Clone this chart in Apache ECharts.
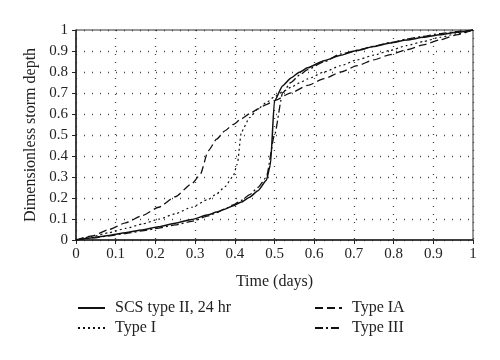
<!DOCTYPE html>
<html><head><meta charset="utf-8">
<script src="https://cdn.jsdelivr.net/npm/echarts@6/dist/echarts.min.js"></script>
<style>html,body{margin:0;padding:0;background:#fff}#c{width:500px;height:360px}</style>
</head><body><div id="c"></div>
<script>
// time in hours (converted to days below), cumulative dimensionless depth
const hII  = [0,1,2,3,4,5,6,7,8,8.5,9,9.5,10,10.5,11,11.5,11.75,12,12.5,13,13.5,14,15,16,17,18,19,20,21,22,23,24];
const vII  = [0,.011,.022,.035,.048,.063,.080,.098,.120,.133,.147,.163,.181,.204,.235,.283,.357,.663,.735,.772,.799,.820,.854,.880,.902,.921,.938,.952,.965,.977,.989,1];
const hI   = [0,1,2,3,4,5,6,7,8,8.5,9,9.5,9.75,10,10.5,11,11.5,12,12.5,13,13.5,14,15,16,17,18,19,20,21,22,23,24];
const vI   = [0,.017,.035,.055,.076,.099,.125,.156,.194,.219,.254,.303,.362,.515,.583,.624,.654,.682,.706,.727,.748,.767,.800,.830,.858,.880,.903,.926,.945,.965,.982,1];
const hIA  = [0,1,2,3,4,5,6,7,7.5,8,8.5,9,9.5,10,10.5,11,11.5,12,13,14,15,16,17,18,19,20,21,22,23,24];
const vIA  = [0,.020,.050,.082,.116,.156,.206,.268,.310,.425,.480,.520,.550,.577,.601,.624,.645,.664,.701,.736,.768,.800,.830,.858,.883,.906,.929,.953,.977,1];
const hIII = [0,1,2,3,4,5,6,7,8,8.5,9,9.5,10,10.5,11,11.5,12,12.5,13,13.5,14,15,16,17,18,19,20,21,22,23,24];
const vIII = [0,.010,.020,.031,.043,.057,.072,.089,.115,.130,.148,.167,.189,.216,.250,.298,.500,.702,.751,.785,.811,.849,.886,.904,.922,.940,.957,.970,.983,.992,1];
const names = ['SCS type II, 24 hr','Type I','Type IA','Type III'];

const zip = (h,v)=>h.map((x,i)=>[x/24,v[i]]);
const FONT = '"Liberation Serif", "DejaVu Serif", serif';
const tickFmt = v => (v===0||v===1) ? String(v) : v.toFixed(1);
const chart = echarts.init(document.getElementById('c'), null, {renderer:'canvas'});
const mk = (name, t, v, type, w) => ({
  name, type:'line', data: zip(t,v), symbol:'none', smooth:0.2, smoothMonotone:'x',
  lineStyle:{color:'#111', width:w, type}, itemStyle:{color:'#111'}, animation:false
});
const legendCommon = {orient:'vertical', top:295, itemWidth:27, itemHeight:10, itemGap:4,
  itemStyle:{opacity:0},
  textStyle:{fontFamily:FONT, fontSize:16, color:'#222', padding:[0,0,0,5]}};
chart.setOption({
  animation:false,
  textStyle:{fontFamily:FONT},
  grid:{left:76, right:27, top:30, bottom:120, show:true, borderColor:'#333', borderWidth:1},
  xAxis:{type:'value', min:0, max:1, interval:0.1,
    name:'Time (days)', nameLocation:'middle', nameGap:34,
    nameTextStyle:{fontFamily:FONT, fontSize:16, color:'#222'},
    axisLine:{lineStyle:{color:'#222', width:1.5}},
    axisTick:{show:true, length:4, lineStyle:{color:'#222'}},
    axisLabel:{fontFamily:FONT, fontSize:15, color:'#222', formatter:tickFmt, margin:7},
    splitLine:{show:true, lineStyle:{color:'#444', type:[1,7], width:1.3}}},
  yAxis:{type:'value', min:0, max:1, interval:0.1,
    name:'Dimensionless storm depth', nameLocation:'middle', nameGap:37,
    nameTextStyle:{fontFamily:FONT, fontSize:16, color:'#222'},
    axisLine:{show:true, lineStyle:{color:'#222', width:1.5}},
    axisTick:{show:true, length:4, lineStyle:{color:'#222'}},
    axisLabel:{fontFamily:FONT, fontSize:15, color:'#222', formatter:tickFmt, margin:8},
    splitLine:{show:true, lineStyle:{color:'#444', type:[1,7], width:1.3}}},
  legend:[
    Object.assign({data:[names[0],names[1]], left:72}, legendCommon),
    Object.assign({data:[names[2],names[3]], left:309}, legendCommon)
  ],
  series:[
    mk(names[0], hII, vII, 'solid', 1.5),
    mk(names[1], hI, vI, [2,3], 1.2),
    mk(names[2], hIA, vIA, [8,4], 1.3),
    mk(names[3], hIII, vIII, [8,3,2,3], 1.3)
  ]
});
</script></body></html>
